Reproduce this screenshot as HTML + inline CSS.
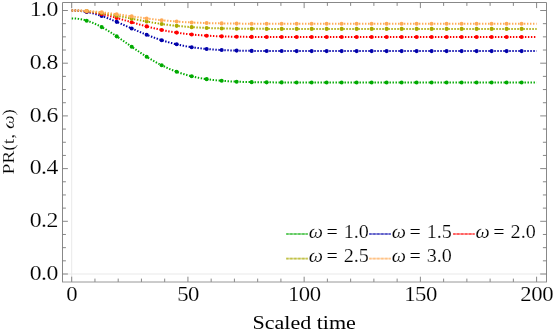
<!DOCTYPE html>
<html><head><meta charset="utf-8"><title>chart</title>
<style>html,body{margin:0;padding:0;background:#fff}svg{display:block;will-change:transform}</style></head>
<body>
<svg width="553" height="335" viewBox="0 0 553 335">
<rect width="553" height="335" fill="#fff"/>
<path d="M71.70 2.5 V281.9 M62.5 274.00 H546.5" stroke="#e9e9e9" stroke-width="1" fill="none"/>
<polyline points="71.70,18.38 72.86,18.39 74.02,18.43 75.19,18.51 76.35,18.60 77.51,18.73 78.67,18.88 79.84,19.06 81.00,19.27 82.16,19.51 83.32,19.77 84.48,20.06 85.65,20.37 86.81,20.71 87.97,21.07 89.13,21.46 90.30,21.88 91.46,22.31 92.62,22.77 93.78,23.26 94.95,23.76 96.11,24.29 97.27,24.83 98.43,25.40 99.59,25.98 100.76,26.59 101.92,27.21 103.08,27.85 104.24,28.50 105.41,29.17 106.57,29.86 107.73,30.56 108.89,31.27 110.05,31.99 111.22,32.73 112.38,33.48 113.54,34.23 114.70,35.00 115.87,35.77 117.03,36.55 118.19,37.34 119.35,38.14 120.51,38.94 121.68,39.74 122.84,40.55 124.00,41.36 125.16,42.17 126.33,42.98 127.49,43.80 128.65,44.61 129.81,45.42 130.97,46.24 132.14,47.04 133.30,47.85 134.46,48.65 135.62,49.45 136.79,50.25 137.95,51.03 139.11,51.82 140.27,52.59 141.44,53.36 142.60,54.12 143.76,54.88 144.92,55.62 146.08,56.36 147.25,57.09 148.41,57.81 149.57,58.52 150.73,59.22 151.90,59.90 153.06,60.58 154.22,61.25 155.38,61.90 156.54,62.55 157.71,63.18 158.87,63.80 160.03,64.41 161.19,65.00 162.36,65.58 163.52,66.16 164.68,66.71 165.84,67.26 167.00,67.79 168.17,68.32 169.33,68.82 170.49,69.32 171.65,69.80 172.82,70.28 173.98,70.73 175.14,71.18 176.30,71.62 177.46,72.04 178.63,72.45 179.79,72.85 180.95,73.23 182.11,73.61 183.28,73.97 184.44,74.32 185.60,74.66 186.76,74.99 187.93,75.31 189.09,75.62 190.25,75.92 191.41,76.21 192.57,76.48 193.74,76.75 194.90,77.01 196.06,77.26 197.22,77.50 198.39,77.73 199.55,77.95 200.71,78.16 201.87,78.37 203.03,78.57 204.20,78.76 205.36,78.94 206.52,79.11 207.68,79.28 208.85,79.44 210.01,79.59 211.17,79.74 212.33,79.88 213.49,80.01 214.66,80.14 215.82,80.26 216.98,80.38 218.14,80.49 219.31,80.60 220.47,80.70 221.63,80.80 222.79,80.89 223.95,80.97 225.12,81.06 226.28,81.14 227.44,81.21 228.60,81.28 229.77,81.35 230.93,81.42 232.09,81.48 233.25,81.54 234.42,81.59 235.58,81.64 236.74,81.69 237.90,81.74 239.06,81.78 240.23,81.82 241.39,81.86 242.55,81.90 243.71,81.94 244.88,81.97 246.04,82.00 247.20,82.03 248.36,82.06 249.52,82.08 250.69,82.11 251.85,82.13 253.01,82.15 254.17,82.17 255.34,82.19 256.50,82.21 257.66,82.23 258.82,82.24 259.98,82.26 261.15,82.27 262.31,82.29 263.47,82.30 264.63,82.31 265.80,82.32 266.96,82.33 268.12,82.34 269.28,82.35 270.44,82.36 271.61,82.36 272.77,82.37 273.93,82.38 275.09,82.38 276.26,82.39 277.42,82.40 278.58,82.40 279.74,82.40 280.91,82.41 282.07,82.41 283.23,82.42 284.39,82.42 285.55,82.42 286.72,82.43 287.88,82.43 289.04,82.43 290.20,82.43 291.37,82.44 292.53,82.44 293.69,82.44 294.85,82.44 296.01,82.44 297.18,82.45 298.34,82.45 299.50,82.45 300.66,82.45 301.83,82.45 302.99,82.45 304.15,82.45 305.31,82.45 306.47,82.45 307.64,82.45 308.80,82.45 309.96,82.46 311.12,82.46 312.29,82.46 313.45,82.46 314.61,82.46 315.77,82.46 316.93,82.46 318.10,82.46 319.26,82.46 320.42,82.46 321.58,82.46 322.75,82.46 323.91,82.46 325.07,82.46 326.23,82.46 327.39,82.46 328.56,82.46 329.72,82.46 330.88,82.46 332.04,82.46 333.21,82.46 334.37,82.46 335.53,82.46 336.69,82.46 337.86,82.46 339.02,82.46 340.18,82.46 341.34,82.46 342.50,82.46 343.67,82.46 344.83,82.46 345.99,82.46 347.15,82.46 348.32,82.46 349.48,82.46 350.64,82.46 351.80,82.46 352.96,82.46 354.13,82.46 355.29,82.46 356.45,82.46 357.61,82.46 358.78,82.46 359.94,82.46 361.10,82.46 362.26,82.46 363.42,82.46 364.59,82.46 365.75,82.46 366.91,82.46 368.07,82.46 369.24,82.46 370.40,82.46 371.56,82.46 372.72,82.46 373.88,82.46 375.05,82.46 376.21,82.46 377.37,82.46 378.53,82.46 379.70,82.46 380.86,82.46 382.02,82.46 383.18,82.46 384.35,82.46 385.51,82.46 386.67,82.46 387.83,82.46 388.99,82.46 390.16,82.46 391.32,82.46 392.48,82.46 393.64,82.46 394.81,82.46 395.97,82.46 397.13,82.46 398.29,82.46 399.45,82.46 400.62,82.46 401.78,82.46 402.94,82.46 404.10,82.46 405.27,82.46 406.43,82.46 407.59,82.46 408.75,82.46 409.91,82.46 411.08,82.46 412.24,82.46 413.40,82.46 414.56,82.46 415.73,82.46 416.89,82.46 418.05,82.46 419.21,82.46 420.38,82.46 421.54,82.46 422.70,82.46 423.86,82.46 425.02,82.46 426.19,82.46 427.35,82.46 428.51,82.46 429.67,82.46 430.84,82.46 432.00,82.46 433.16,82.46 434.32,82.46 435.48,82.46 436.65,82.46 437.81,82.46 438.97,82.46 440.13,82.46 441.30,82.46 442.46,82.46 443.62,82.46 444.78,82.46 445.94,82.46 447.11,82.46 448.27,82.46 449.43,82.46 450.59,82.46 451.76,82.46 452.92,82.46 454.08,82.46 455.24,82.46 456.40,82.46 457.57,82.46 458.73,82.46 459.89,82.46 461.05,82.46 462.22,82.46 463.38,82.46 464.54,82.46 465.70,82.46 466.87,82.46 468.03,82.46 469.19,82.46 470.35,82.46 471.51,82.46 472.68,82.46 473.84,82.46 475.00,82.46 476.16,82.46 477.33,82.46 478.49,82.46 479.65,82.46 480.81,82.46 481.97,82.46 483.14,82.46 484.30,82.46 485.46,82.46 486.62,82.46 487.79,82.46 488.95,82.46 490.11,82.46 491.27,82.46 492.43,82.46 493.60,82.46 494.76,82.46 495.92,82.46 497.08,82.46 498.25,82.46 499.41,82.46 500.57,82.46 501.73,82.46 502.89,82.46 504.06,82.46 505.22,82.46 506.38,82.46 507.54,82.46 508.71,82.46 509.87,82.46 511.03,82.46 512.19,82.46 513.36,82.46 514.52,82.46 515.68,82.46 516.84,82.46 518.00,82.46 519.17,82.46 520.33,82.46 521.49,82.46 522.65,82.46 523.82,82.46 524.98,82.46 526.14,82.46 527.30,82.46 528.46,82.46 529.63,82.46 530.79,82.46 531.95,82.46 533.11,82.46 534.28,82.46 535.44,82.46 536.60,82.46" fill="none" stroke="#00aa00" stroke-width="2" stroke-dasharray="1.4 1.6"/>
<circle cx="86.70" cy="20.68" r="2.05" fill="#00aa00"/>
<circle cx="101.69" cy="27.09" r="2.05" fill="#00aa00"/>
<circle cx="116.69" cy="36.33" r="2.05" fill="#00aa00"/>
<circle cx="131.69" cy="46.73" r="2.05" fill="#00aa00"/>
<circle cx="146.68" cy="56.74" r="2.05" fill="#00aa00"/>
<circle cx="161.68" cy="65.25" r="2.05" fill="#00aa00"/>
<circle cx="176.68" cy="71.75" r="2.05" fill="#00aa00"/>
<circle cx="191.67" cy="76.27" r="2.05" fill="#00aa00"/>
<circle cx="206.67" cy="79.13" r="2.05" fill="#00aa00"/>
<circle cx="221.67" cy="80.80" r="2.05" fill="#00aa00"/>
<circle cx="236.66" cy="81.69" r="2.05" fill="#00aa00"/>
<circle cx="251.66" cy="82.13" r="2.05" fill="#00aa00"/>
<circle cx="266.66" cy="82.33" r="2.05" fill="#00aa00"/>
<circle cx="281.65" cy="82.41" r="2.05" fill="#00aa00"/>
<circle cx="296.65" cy="82.44" r="2.05" fill="#00aa00"/>
<circle cx="311.65" cy="82.46" r="2.05" fill="#00aa00"/>
<circle cx="326.65" cy="82.46" r="2.05" fill="#00aa00"/>
<circle cx="341.64" cy="82.46" r="2.05" fill="#00aa00"/>
<circle cx="356.64" cy="82.46" r="2.05" fill="#00aa00"/>
<circle cx="371.64" cy="82.46" r="2.05" fill="#00aa00"/>
<circle cx="386.63" cy="82.46" r="2.05" fill="#00aa00"/>
<circle cx="401.63" cy="82.46" r="2.05" fill="#00aa00"/>
<circle cx="416.63" cy="82.46" r="2.05" fill="#00aa00"/>
<circle cx="431.62" cy="82.46" r="2.05" fill="#00aa00"/>
<circle cx="446.62" cy="82.46" r="2.05" fill="#00aa00"/>
<circle cx="461.62" cy="82.46" r="2.05" fill="#00aa00"/>
<circle cx="476.61" cy="82.46" r="2.05" fill="#00aa00"/>
<circle cx="491.61" cy="82.46" r="2.05" fill="#00aa00"/>
<circle cx="506.61" cy="82.46" r="2.05" fill="#00aa00"/>
<circle cx="521.60" cy="82.46" r="2.05" fill="#00aa00"/>
<polyline points="71.70,10.50 72.86,10.51 74.02,10.54 75.19,10.58 76.35,10.64 77.51,10.72 78.67,10.82 79.84,10.93 81.00,11.07 82.16,11.21 83.32,11.38 84.48,11.56 85.65,11.76 86.81,11.98 87.97,12.21 89.13,12.45 90.30,12.72 91.46,12.99 92.62,13.29 93.78,13.59 94.95,13.91 96.11,14.24 97.27,14.59 98.43,14.95 99.59,15.32 100.76,15.70 101.92,16.09 103.08,16.50 104.24,16.91 105.41,17.34 106.57,17.77 107.73,18.22 108.89,18.67 110.05,19.13 111.22,19.59 112.38,20.07 113.54,20.55 114.70,21.03 115.87,21.52 117.03,22.02 118.19,22.52 119.35,23.02 120.51,23.53 121.68,24.04 122.84,24.55 124.00,25.06 125.16,25.58 126.33,26.09 127.49,26.61 128.65,27.12 129.81,27.64 130.97,28.15 132.14,28.66 133.30,29.17 134.46,29.68 135.62,30.19 136.79,30.69 137.95,31.19 139.11,31.69 140.27,32.18 141.44,32.67 142.60,33.15 143.76,33.63 144.92,34.10 146.08,34.57 147.25,35.03 148.41,35.48 149.57,35.93 150.73,36.38 151.90,36.81 153.06,37.24 154.22,37.66 155.38,38.08 156.54,38.49 157.71,38.89 158.87,39.28 160.03,39.66 161.19,40.04 162.36,40.41 163.52,40.77 164.68,41.13 165.84,41.47 167.00,41.81 168.17,42.14 169.33,42.46 170.49,42.78 171.65,43.09 172.82,43.38 173.98,43.67 175.14,43.96 176.30,44.23 177.46,44.50 178.63,44.76 179.79,45.01 180.95,45.26 182.11,45.49 183.28,45.72 184.44,45.95 185.60,46.16 186.76,46.37 187.93,46.57 189.09,46.77 190.25,46.96 191.41,47.14 192.57,47.32 193.74,47.49 194.90,47.65 196.06,47.81 197.22,47.96 198.39,48.11 199.55,48.25 200.71,48.38 201.87,48.51 203.03,48.64 204.20,48.76 205.36,48.87 206.52,48.98 207.68,49.09 208.85,49.19 210.01,49.29 211.17,49.38 212.33,49.47 213.49,49.55 214.66,49.63 215.82,49.71 216.98,49.79 218.14,49.86 219.31,49.92 220.47,49.99 221.63,50.05 222.79,50.11 223.95,50.16 225.12,50.22 226.28,50.27 227.44,50.31 228.60,50.36 229.77,50.40 230.93,50.44 232.09,50.48 233.25,50.52 234.42,50.55 235.58,50.59 236.74,50.62 237.90,50.65 239.06,50.68 240.23,50.70 241.39,50.73 242.55,50.75 243.71,50.77 244.88,50.79 246.04,50.81 247.20,50.83 248.36,50.85 249.52,50.87 250.69,50.88 251.85,50.90 253.01,50.91 254.17,50.92 255.34,50.94 256.50,50.95 257.66,50.96 258.82,50.97 259.98,50.98 261.15,50.99 262.31,50.99 263.47,51.00 264.63,51.01 265.80,51.02 266.96,51.02 268.12,51.03 269.28,51.03 270.44,51.04 271.61,51.04 272.77,51.05 273.93,51.05 275.09,51.06 276.26,51.06 277.42,51.06 278.58,51.07 279.74,51.07 280.91,51.07 282.07,51.07 283.23,51.08 284.39,51.08 285.55,51.08 286.72,51.08 287.88,51.08 289.04,51.09 290.20,51.09 291.37,51.09 292.53,51.09 293.69,51.09 294.85,51.09 296.01,51.09 297.18,51.09 298.34,51.10 299.50,51.10 300.66,51.10 301.83,51.10 302.99,51.10 304.15,51.10 305.31,51.10 306.47,51.10 307.64,51.10 308.80,51.10 309.96,51.10 311.12,51.10 312.29,51.10 313.45,51.10 314.61,51.10 315.77,51.10 316.93,51.10 318.10,51.10 319.26,51.10 320.42,51.10 321.58,51.10 322.75,51.10 323.91,51.10 325.07,51.10 326.23,51.10 327.39,51.10 328.56,51.10 329.72,51.10 330.88,51.10 332.04,51.10 333.21,51.10 334.37,51.10 335.53,51.10 336.69,51.10 337.86,51.10 339.02,51.10 340.18,51.11 341.34,51.11 342.50,51.11 343.67,51.11 344.83,51.11 345.99,51.11 347.15,51.11 348.32,51.11 349.48,51.11 350.64,51.11 351.80,51.11 352.96,51.11 354.13,51.11 355.29,51.11 356.45,51.11 357.61,51.11 358.78,51.11 359.94,51.11 361.10,51.11 362.26,51.11 363.42,51.11 364.59,51.11 365.75,51.11 366.91,51.11 368.07,51.11 369.24,51.11 370.40,51.11 371.56,51.11 372.72,51.11 373.88,51.11 375.05,51.11 376.21,51.11 377.37,51.11 378.53,51.11 379.70,51.11 380.86,51.11 382.02,51.11 383.18,51.11 384.35,51.11 385.51,51.11 386.67,51.11 387.83,51.11 388.99,51.11 390.16,51.11 391.32,51.11 392.48,51.11 393.64,51.11 394.81,51.11 395.97,51.11 397.13,51.11 398.29,51.11 399.45,51.11 400.62,51.11 401.78,51.11 402.94,51.11 404.10,51.11 405.27,51.11 406.43,51.11 407.59,51.11 408.75,51.11 409.91,51.11 411.08,51.11 412.24,51.11 413.40,51.11 414.56,51.11 415.73,51.11 416.89,51.11 418.05,51.11 419.21,51.11 420.38,51.11 421.54,51.11 422.70,51.11 423.86,51.11 425.02,51.11 426.19,51.11 427.35,51.11 428.51,51.11 429.67,51.11 430.84,51.11 432.00,51.11 433.16,51.11 434.32,51.11 435.48,51.11 436.65,51.11 437.81,51.11 438.97,51.11 440.13,51.11 441.30,51.11 442.46,51.11 443.62,51.11 444.78,51.11 445.94,51.11 447.11,51.11 448.27,51.11 449.43,51.11 450.59,51.11 451.76,51.11 452.92,51.11 454.08,51.11 455.24,51.11 456.40,51.11 457.57,51.11 458.73,51.11 459.89,51.11 461.05,51.11 462.22,51.11 463.38,51.11 464.54,51.11 465.70,51.11 466.87,51.11 468.03,51.11 469.19,51.11 470.35,51.11 471.51,51.11 472.68,51.11 473.84,51.11 475.00,51.11 476.16,51.11 477.33,51.11 478.49,51.11 479.65,51.11 480.81,51.11 481.97,51.11 483.14,51.11 484.30,51.11 485.46,51.11 486.62,51.11 487.79,51.11 488.95,51.11 490.11,51.11 491.27,51.11 492.43,51.11 493.60,51.11 494.76,51.11 495.92,51.11 497.08,51.11 498.25,51.11 499.41,51.11 500.57,51.11 501.73,51.11 502.89,51.11 504.06,51.11 505.22,51.11 506.38,51.11 507.54,51.11 508.71,51.11 509.87,51.11 511.03,51.11 512.19,51.11 513.36,51.11 514.52,51.11 515.68,51.11 516.84,51.11 518.00,51.11 519.17,51.11 520.33,51.11 521.49,51.11 522.65,51.11 523.82,51.11 524.98,51.11 526.14,51.11 527.30,51.11 528.46,51.11 529.63,51.11 530.79,51.11 531.95,51.11 533.11,51.11 534.28,51.11 535.44,51.11 536.60,51.11" fill="none" stroke="#0000aa" stroke-width="2" stroke-dasharray="1.4 1.6"/>
<circle cx="86.70" cy="11.96" r="2.05" fill="#0000aa"/>
<circle cx="101.69" cy="16.02" r="2.05" fill="#0000aa"/>
<circle cx="116.69" cy="21.87" r="2.05" fill="#0000aa"/>
<circle cx="131.69" cy="28.47" r="2.05" fill="#0000aa"/>
<circle cx="146.68" cy="34.81" r="2.05" fill="#0000aa"/>
<circle cx="161.68" cy="40.20" r="2.05" fill="#0000aa"/>
<circle cx="176.68" cy="44.32" r="2.05" fill="#0000aa"/>
<circle cx="191.67" cy="47.18" r="2.05" fill="#0000aa"/>
<circle cx="206.67" cy="49.00" r="2.05" fill="#0000aa"/>
<circle cx="221.67" cy="50.05" r="2.05" fill="#0000aa"/>
<circle cx="236.66" cy="50.62" r="2.05" fill="#0000aa"/>
<circle cx="251.66" cy="50.89" r="2.05" fill="#0000aa"/>
<circle cx="266.66" cy="51.02" r="2.05" fill="#0000aa"/>
<circle cx="281.65" cy="51.07" r="2.05" fill="#0000aa"/>
<circle cx="296.65" cy="51.09" r="2.05" fill="#0000aa"/>
<circle cx="311.65" cy="51.10" r="2.05" fill="#0000aa"/>
<circle cx="326.65" cy="51.10" r="2.05" fill="#0000aa"/>
<circle cx="341.64" cy="51.11" r="2.05" fill="#0000aa"/>
<circle cx="356.64" cy="51.11" r="2.05" fill="#0000aa"/>
<circle cx="371.64" cy="51.11" r="2.05" fill="#0000aa"/>
<circle cx="386.63" cy="51.11" r="2.05" fill="#0000aa"/>
<circle cx="401.63" cy="51.11" r="2.05" fill="#0000aa"/>
<circle cx="416.63" cy="51.11" r="2.05" fill="#0000aa"/>
<circle cx="431.62" cy="51.11" r="2.05" fill="#0000aa"/>
<circle cx="446.62" cy="51.11" r="2.05" fill="#0000aa"/>
<circle cx="461.62" cy="51.11" r="2.05" fill="#0000aa"/>
<circle cx="476.61" cy="51.11" r="2.05" fill="#0000aa"/>
<circle cx="491.61" cy="51.11" r="2.05" fill="#0000aa"/>
<circle cx="506.61" cy="51.11" r="2.05" fill="#0000aa"/>
<circle cx="521.60" cy="51.11" r="2.05" fill="#0000aa"/>
<polyline points="71.70,10.50 72.86,10.51 74.02,10.52 75.19,10.55 76.35,10.59 77.51,10.65 78.67,10.71 79.84,10.78 81.00,10.87 82.16,10.97 83.32,11.08 84.48,11.20 85.65,11.33 86.81,11.47 87.97,11.62 89.13,11.78 90.30,11.95 91.46,12.13 92.62,12.32 93.78,12.52 94.95,12.73 96.11,12.95 97.27,13.17 98.43,13.41 99.59,13.65 100.76,13.90 101.92,14.16 103.08,14.42 104.24,14.70 105.41,14.97 106.57,15.26 107.73,15.55 108.89,15.84 110.05,16.14 111.22,16.45 112.38,16.76 113.54,17.07 114.70,17.39 115.87,17.71 117.03,18.03 118.19,18.36 119.35,18.69 120.51,19.02 121.68,19.35 122.84,19.69 124.00,20.02 125.16,20.36 126.33,20.70 127.49,21.04 128.65,21.37 129.81,21.71 130.97,22.05 132.14,22.38 133.30,22.72 134.46,23.05 135.62,23.38 136.79,23.71 137.95,24.03 139.11,24.36 140.27,24.68 141.44,25.00 142.60,25.32 143.76,25.63 144.92,25.94 146.08,26.24 147.25,26.54 148.41,26.84 149.57,27.14 150.73,27.43 151.90,27.71 153.06,27.99 154.22,28.27 155.38,28.54 156.54,28.81 157.71,29.07 158.87,29.32 160.03,29.58 161.19,29.82 162.36,30.07 163.52,30.30 164.68,30.53 165.84,30.76 167.00,30.98 168.17,31.20 169.33,31.41 170.49,31.61 171.65,31.81 172.82,32.01 173.98,32.20 175.14,32.39 176.30,32.57 177.46,32.74 178.63,32.91 179.79,33.08 180.95,33.24 182.11,33.39 183.28,33.54 184.44,33.69 185.60,33.83 186.76,33.96 187.93,34.10 189.09,34.22 190.25,34.35 191.41,34.47 192.57,34.58 193.74,34.69 194.90,34.80 196.06,34.90 197.22,35.00 198.39,35.10 199.55,35.19 200.71,35.28 201.87,35.36 203.03,35.45 204.20,35.52 205.36,35.60 206.52,35.67 207.68,35.74 208.85,35.81 210.01,35.87 211.17,35.93 212.33,35.99 213.49,36.05 214.66,36.10 215.82,36.15 216.98,36.20 218.14,36.24 219.31,36.29 220.47,36.33 221.63,36.37 222.79,36.41 223.95,36.44 225.12,36.48 226.28,36.51 227.44,36.54 228.60,36.57 229.77,36.60 230.93,36.63 232.09,36.65 233.25,36.68 234.42,36.70 235.58,36.72 236.74,36.74 237.90,36.76 239.06,36.78 240.23,36.80 241.39,36.81 242.55,36.83 243.71,36.84 244.88,36.86 246.04,36.87 247.20,36.88 248.36,36.89 249.52,36.90 250.69,36.91 251.85,36.92 253.01,36.93 254.17,36.94 255.34,36.95 256.50,36.96 257.66,36.96 258.82,36.97 259.98,36.98 261.15,36.98 262.31,36.99 263.47,36.99 264.63,37.00 265.80,37.00 266.96,37.01 268.12,37.01 269.28,37.01 270.44,37.02 271.61,37.02 272.77,37.02 273.93,37.03 275.09,37.03 276.26,37.03 277.42,37.03 278.58,37.04 279.74,37.04 280.91,37.04 282.07,37.04 283.23,37.04 284.39,37.04 285.55,37.04 286.72,37.05 287.88,37.05 289.04,37.05 290.20,37.05 291.37,37.05 292.53,37.05 293.69,37.05 294.85,37.05 296.01,37.05 297.18,37.05 298.34,37.05 299.50,37.05 300.66,37.06 301.83,37.06 302.99,37.06 304.15,37.06 305.31,37.06 306.47,37.06 307.64,37.06 308.80,37.06 309.96,37.06 311.12,37.06 312.29,37.06 313.45,37.06 314.61,37.06 315.77,37.06 316.93,37.06 318.10,37.06 319.26,37.06 320.42,37.06 321.58,37.06 322.75,37.06 323.91,37.06 325.07,37.06 326.23,37.06 327.39,37.06 328.56,37.06 329.72,37.06 330.88,37.06 332.04,37.06 333.21,37.06 334.37,37.06 335.53,37.06 336.69,37.06 337.86,37.06 339.02,37.06 340.18,37.06 341.34,37.06 342.50,37.06 343.67,37.06 344.83,37.06 345.99,37.06 347.15,37.06 348.32,37.06 349.48,37.06 350.64,37.06 351.80,37.06 352.96,37.06 354.13,37.06 355.29,37.06 356.45,37.06 357.61,37.06 358.78,37.06 359.94,37.06 361.10,37.06 362.26,37.06 363.42,37.06 364.59,37.06 365.75,37.06 366.91,37.06 368.07,37.06 369.24,37.06 370.40,37.06 371.56,37.06 372.72,37.06 373.88,37.06 375.05,37.06 376.21,37.06 377.37,37.06 378.53,37.06 379.70,37.06 380.86,37.06 382.02,37.06 383.18,37.06 384.35,37.06 385.51,37.06 386.67,37.06 387.83,37.06 388.99,37.06 390.16,37.06 391.32,37.06 392.48,37.06 393.64,37.06 394.81,37.06 395.97,37.06 397.13,37.06 398.29,37.06 399.45,37.06 400.62,37.06 401.78,37.06 402.94,37.06 404.10,37.06 405.27,37.06 406.43,37.06 407.59,37.06 408.75,37.06 409.91,37.06 411.08,37.06 412.24,37.06 413.40,37.06 414.56,37.06 415.73,37.06 416.89,37.06 418.05,37.06 419.21,37.06 420.38,37.06 421.54,37.06 422.70,37.06 423.86,37.06 425.02,37.06 426.19,37.06 427.35,37.06 428.51,37.06 429.67,37.06 430.84,37.06 432.00,37.06 433.16,37.06 434.32,37.06 435.48,37.06 436.65,37.06 437.81,37.06 438.97,37.06 440.13,37.06 441.30,37.06 442.46,37.06 443.62,37.06 444.78,37.06 445.94,37.06 447.11,37.06 448.27,37.06 449.43,37.06 450.59,37.06 451.76,37.06 452.92,37.06 454.08,37.06 455.24,37.06 456.40,37.06 457.57,37.06 458.73,37.06 459.89,37.06 461.05,37.06 462.22,37.06 463.38,37.06 464.54,37.06 465.70,37.06 466.87,37.06 468.03,37.06 469.19,37.06 470.35,37.06 471.51,37.06 472.68,37.06 473.84,37.06 475.00,37.06 476.16,37.06 477.33,37.06 478.49,37.06 479.65,37.06 480.81,37.06 481.97,37.06 483.14,37.06 484.30,37.06 485.46,37.06 486.62,37.06 487.79,37.06 488.95,37.06 490.11,37.06 491.27,37.06 492.43,37.06 493.60,37.06 494.76,37.06 495.92,37.06 497.08,37.06 498.25,37.06 499.41,37.06 500.57,37.06 501.73,37.06 502.89,37.06 504.06,37.06 505.22,37.06 506.38,37.06 507.54,37.06 508.71,37.06 509.87,37.06 511.03,37.06 512.19,37.06 513.36,37.06 514.52,37.06 515.68,37.06 516.84,37.06 518.00,37.06 519.17,37.06 520.33,37.06 521.49,37.06 522.65,37.06 523.82,37.06 524.98,37.06 526.14,37.06 527.30,37.06 528.46,37.06 529.63,37.06 530.79,37.06 531.95,37.06 533.11,37.06 534.28,37.06 535.44,37.06 536.60,37.06" fill="none" stroke="#ff0000" stroke-width="2" stroke-dasharray="1.4 1.6"/>
<circle cx="86.70" cy="11.45" r="2.05" fill="#ff0000"/>
<circle cx="101.69" cy="14.11" r="2.05" fill="#ff0000"/>
<circle cx="116.69" cy="17.94" r="2.05" fill="#ff0000"/>
<circle cx="131.69" cy="22.25" r="2.05" fill="#ff0000"/>
<circle cx="146.68" cy="26.40" r="2.05" fill="#ff0000"/>
<circle cx="161.68" cy="29.93" r="2.05" fill="#ff0000"/>
<circle cx="176.68" cy="32.62" r="2.05" fill="#ff0000"/>
<circle cx="191.67" cy="34.49" r="2.05" fill="#ff0000"/>
<circle cx="206.67" cy="35.68" r="2.05" fill="#ff0000"/>
<circle cx="221.67" cy="36.37" r="2.05" fill="#ff0000"/>
<circle cx="236.66" cy="36.74" r="2.05" fill="#ff0000"/>
<circle cx="251.66" cy="36.92" r="2.05" fill="#ff0000"/>
<circle cx="266.66" cy="37.01" r="2.05" fill="#ff0000"/>
<circle cx="281.65" cy="37.04" r="2.05" fill="#ff0000"/>
<circle cx="296.65" cy="37.05" r="2.05" fill="#ff0000"/>
<circle cx="311.65" cy="37.06" r="2.05" fill="#ff0000"/>
<circle cx="326.65" cy="37.06" r="2.05" fill="#ff0000"/>
<circle cx="341.64" cy="37.06" r="2.05" fill="#ff0000"/>
<circle cx="356.64" cy="37.06" r="2.05" fill="#ff0000"/>
<circle cx="371.64" cy="37.06" r="2.05" fill="#ff0000"/>
<circle cx="386.63" cy="37.06" r="2.05" fill="#ff0000"/>
<circle cx="401.63" cy="37.06" r="2.05" fill="#ff0000"/>
<circle cx="416.63" cy="37.06" r="2.05" fill="#ff0000"/>
<circle cx="431.62" cy="37.06" r="2.05" fill="#ff0000"/>
<circle cx="446.62" cy="37.06" r="2.05" fill="#ff0000"/>
<circle cx="461.62" cy="37.06" r="2.05" fill="#ff0000"/>
<circle cx="476.61" cy="37.06" r="2.05" fill="#ff0000"/>
<circle cx="491.61" cy="37.06" r="2.05" fill="#ff0000"/>
<circle cx="506.61" cy="37.06" r="2.05" fill="#ff0000"/>
<circle cx="521.60" cy="37.06" r="2.05" fill="#ff0000"/>
<polyline points="71.70,10.50 72.86,10.50 74.02,10.52 75.19,10.54 76.35,10.56 77.51,10.60 78.67,10.64 79.84,10.70 81.00,10.76 82.16,10.82 83.32,10.90 84.48,10.98 85.65,11.07 86.81,11.17 87.97,11.27 89.13,11.39 90.30,11.51 91.46,11.63 92.62,11.76 93.78,11.90 94.95,12.05 96.11,12.20 97.27,12.35 98.43,12.52 99.59,12.69 100.76,12.86 101.92,13.04 103.08,13.22 104.24,13.41 105.41,13.60 106.57,13.80 107.73,14.00 108.89,14.20 110.05,14.41 111.22,14.62 112.38,14.84 113.54,15.06 114.70,15.28 115.87,15.50 117.03,15.72 118.19,15.95 119.35,16.18 120.51,16.41 121.68,16.64 122.84,16.87 124.00,17.10 125.16,17.34 126.33,17.57 127.49,17.81 128.65,18.04 129.81,18.27 130.97,18.51 132.14,18.74 133.30,18.97 134.46,19.20 135.62,19.43 136.79,19.66 137.95,19.89 139.11,20.11 140.27,20.33 141.44,20.56 142.60,20.77 143.76,20.99 144.92,21.21 146.08,21.42 147.25,21.63 148.41,21.83 149.57,22.04 150.73,22.24 151.90,22.43 153.06,22.63 154.22,22.82 155.38,23.01 156.54,23.19 157.71,23.38 158.87,23.55 160.03,23.73 161.19,23.90 162.36,24.07 163.52,24.23 164.68,24.39 165.84,24.55 167.00,24.70 168.17,24.85 169.33,25.00 170.49,25.14 171.65,25.28 172.82,25.42 173.98,25.55 175.14,25.68 176.30,25.80 177.46,25.92 178.63,26.04 179.79,26.15 180.95,26.27 182.11,26.37 183.28,26.48 184.44,26.58 185.60,26.68 186.76,26.77 187.93,26.86 189.09,26.95 190.25,27.04 191.41,27.12 192.57,27.20 193.74,27.28 194.90,27.35 196.06,27.42 197.22,27.49 198.39,27.56 199.55,27.62 200.71,27.68 201.87,27.74 203.03,27.80 204.20,27.85 205.36,27.91 206.52,27.96 207.68,28.00 208.85,28.05 210.01,28.09 211.17,28.14 212.33,28.18 213.49,28.21 214.66,28.25 215.82,28.29 216.98,28.32 218.14,28.35 219.31,28.38 220.47,28.41 221.63,28.44 222.79,28.47 223.95,28.49 225.12,28.52 226.28,28.54 227.44,28.56 228.60,28.58 229.77,28.60 230.93,28.62 232.09,28.64 233.25,28.65 234.42,28.67 235.58,28.68 236.74,28.70 237.90,28.71 239.06,28.72 240.23,28.74 241.39,28.75 242.55,28.76 243.71,28.77 244.88,28.78 246.04,28.79 247.20,28.79 248.36,28.80 249.52,28.81 250.69,28.82 251.85,28.82 253.01,28.83 254.17,28.84 255.34,28.84 256.50,28.85 257.66,28.85 258.82,28.86 259.98,28.86 261.15,28.86 262.31,28.87 263.47,28.87 264.63,28.87 265.80,28.88 266.96,28.88 268.12,28.88 269.28,28.89 270.44,28.89 271.61,28.89 272.77,28.89 273.93,28.89 275.09,28.90 276.26,28.90 277.42,28.90 278.58,28.90 279.74,28.90 280.91,28.90 282.07,28.90 283.23,28.91 284.39,28.91 285.55,28.91 286.72,28.91 287.88,28.91 289.04,28.91 290.20,28.91 291.37,28.91 292.53,28.91 293.69,28.91 294.85,28.91 296.01,28.91 297.18,28.91 298.34,28.91 299.50,28.91 300.66,28.91 301.83,28.92 302.99,28.92 304.15,28.92 305.31,28.92 306.47,28.92 307.64,28.92 308.80,28.92 309.96,28.92 311.12,28.92 312.29,28.92 313.45,28.92 314.61,28.92 315.77,28.92 316.93,28.92 318.10,28.92 319.26,28.92 320.42,28.92 321.58,28.92 322.75,28.92 323.91,28.92 325.07,28.92 326.23,28.92 327.39,28.92 328.56,28.92 329.72,28.92 330.88,28.92 332.04,28.92 333.21,28.92 334.37,28.92 335.53,28.92 336.69,28.92 337.86,28.92 339.02,28.92 340.18,28.92 341.34,28.92 342.50,28.92 343.67,28.92 344.83,28.92 345.99,28.92 347.15,28.92 348.32,28.92 349.48,28.92 350.64,28.92 351.80,28.92 352.96,28.92 354.13,28.92 355.29,28.92 356.45,28.92 357.61,28.92 358.78,28.92 359.94,28.92 361.10,28.92 362.26,28.92 363.42,28.92 364.59,28.92 365.75,28.92 366.91,28.92 368.07,28.92 369.24,28.92 370.40,28.92 371.56,28.92 372.72,28.92 373.88,28.92 375.05,28.92 376.21,28.92 377.37,28.92 378.53,28.92 379.70,28.92 380.86,28.92 382.02,28.92 383.18,28.92 384.35,28.92 385.51,28.92 386.67,28.92 387.83,28.92 388.99,28.92 390.16,28.92 391.32,28.92 392.48,28.92 393.64,28.92 394.81,28.92 395.97,28.92 397.13,28.92 398.29,28.92 399.45,28.92 400.62,28.92 401.78,28.92 402.94,28.92 404.10,28.92 405.27,28.92 406.43,28.92 407.59,28.92 408.75,28.92 409.91,28.92 411.08,28.92 412.24,28.92 413.40,28.92 414.56,28.92 415.73,28.92 416.89,28.92 418.05,28.92 419.21,28.92 420.38,28.92 421.54,28.92 422.70,28.92 423.86,28.92 425.02,28.92 426.19,28.92 427.35,28.92 428.51,28.92 429.67,28.92 430.84,28.92 432.00,28.92 433.16,28.92 434.32,28.92 435.48,28.92 436.65,28.92 437.81,28.92 438.97,28.92 440.13,28.92 441.30,28.92 442.46,28.92 443.62,28.92 444.78,28.92 445.94,28.92 447.11,28.92 448.27,28.92 449.43,28.92 450.59,28.92 451.76,28.92 452.92,28.92 454.08,28.92 455.24,28.92 456.40,28.92 457.57,28.92 458.73,28.92 459.89,28.92 461.05,28.92 462.22,28.92 463.38,28.92 464.54,28.92 465.70,28.92 466.87,28.92 468.03,28.92 469.19,28.92 470.35,28.92 471.51,28.92 472.68,28.92 473.84,28.92 475.00,28.92 476.16,28.92 477.33,28.92 478.49,28.92 479.65,28.92 480.81,28.92 481.97,28.92 483.14,28.92 484.30,28.92 485.46,28.92 486.62,28.92 487.79,28.92 488.95,28.92 490.11,28.92 491.27,28.92 492.43,28.92 493.60,28.92 494.76,28.92 495.92,28.92 497.08,28.92 498.25,28.92 499.41,28.92 500.57,28.92 501.73,28.92 502.89,28.92 504.06,28.92 505.22,28.92 506.38,28.92 507.54,28.92 508.71,28.92 509.87,28.92 511.03,28.92 512.19,28.92 513.36,28.92 514.52,28.92 515.68,28.92 516.84,28.92 518.00,28.92 519.17,28.92 520.33,28.92 521.49,28.92 522.65,28.92 523.82,28.92 524.98,28.92 526.14,28.92 527.30,28.92 528.46,28.92 529.63,28.92 530.79,28.92 531.95,28.92 533.11,28.92 534.28,28.92 535.44,28.92 536.60,28.92" fill="none" stroke="#aaaa00" stroke-width="2" stroke-dasharray="1.4 1.6"/>
<circle cx="86.70" cy="11.16" r="2.05" fill="#aaaa00"/>
<circle cx="101.69" cy="13.00" r="2.05" fill="#aaaa00"/>
<circle cx="116.69" cy="15.66" r="2.05" fill="#aaaa00"/>
<circle cx="131.69" cy="18.65" r="2.05" fill="#aaaa00"/>
<circle cx="146.68" cy="21.53" r="2.05" fill="#aaaa00"/>
<circle cx="161.68" cy="23.97" r="2.05" fill="#aaaa00"/>
<circle cx="176.68" cy="25.84" r="2.05" fill="#aaaa00"/>
<circle cx="191.67" cy="27.14" r="2.05" fill="#aaaa00"/>
<circle cx="206.67" cy="27.96" r="2.05" fill="#aaaa00"/>
<circle cx="221.67" cy="28.44" r="2.05" fill="#aaaa00"/>
<circle cx="236.66" cy="28.70" r="2.05" fill="#aaaa00"/>
<circle cx="251.66" cy="28.82" r="2.05" fill="#aaaa00"/>
<circle cx="266.66" cy="28.88" r="2.05" fill="#aaaa00"/>
<circle cx="281.65" cy="28.90" r="2.05" fill="#aaaa00"/>
<circle cx="296.65" cy="28.91" r="2.05" fill="#aaaa00"/>
<circle cx="311.65" cy="28.92" r="2.05" fill="#aaaa00"/>
<circle cx="326.65" cy="28.92" r="2.05" fill="#aaaa00"/>
<circle cx="341.64" cy="28.92" r="2.05" fill="#aaaa00"/>
<circle cx="356.64" cy="28.92" r="2.05" fill="#aaaa00"/>
<circle cx="371.64" cy="28.92" r="2.05" fill="#aaaa00"/>
<circle cx="386.63" cy="28.92" r="2.05" fill="#aaaa00"/>
<circle cx="401.63" cy="28.92" r="2.05" fill="#aaaa00"/>
<circle cx="416.63" cy="28.92" r="2.05" fill="#aaaa00"/>
<circle cx="431.62" cy="28.92" r="2.05" fill="#aaaa00"/>
<circle cx="446.62" cy="28.92" r="2.05" fill="#aaaa00"/>
<circle cx="461.62" cy="28.92" r="2.05" fill="#aaaa00"/>
<circle cx="476.61" cy="28.92" r="2.05" fill="#aaaa00"/>
<circle cx="491.61" cy="28.92" r="2.05" fill="#aaaa00"/>
<circle cx="506.61" cy="28.92" r="2.05" fill="#aaaa00"/>
<circle cx="521.60" cy="28.92" r="2.05" fill="#aaaa00"/>
<polyline points="71.70,10.50 72.86,10.50 74.02,10.51 75.19,10.53 76.35,10.55 77.51,10.57 78.67,10.60 79.84,10.64 81.00,10.68 82.16,10.73 83.32,10.79 84.48,10.85 85.65,10.91 86.81,10.98 87.97,11.06 89.13,11.14 90.30,11.22 91.46,11.31 92.62,11.41 93.78,11.51 94.95,11.61 96.11,11.72 97.27,11.83 98.43,11.95 99.59,12.07 100.76,12.20 101.92,12.33 103.08,12.46 104.24,12.59 105.41,12.73 106.57,12.87 107.73,13.02 108.89,13.17 110.05,13.32 111.22,13.47 112.38,13.62 113.54,13.78 114.70,13.94 115.87,14.10 117.03,14.26 118.19,14.42 119.35,14.59 120.51,14.75 121.68,14.92 122.84,15.09 124.00,15.25 125.16,15.42 126.33,15.59 127.49,15.76 128.65,15.93 129.81,16.09 130.97,16.26 132.14,16.43 133.30,16.60 134.46,16.76 135.62,16.93 136.79,17.09 137.95,17.25 139.11,17.42 140.27,17.58 141.44,17.74 142.60,17.89 143.76,18.05 144.92,18.20 146.08,18.36 147.25,18.51 148.41,18.66 149.57,18.80 150.73,18.95 151.90,19.09 153.06,19.23 154.22,19.37 155.38,19.50 156.54,19.63 157.71,19.77 158.87,19.89 160.03,20.02 161.19,20.14 162.36,20.26 163.52,20.38 164.68,20.50 165.84,20.61 167.00,20.72 168.17,20.83 169.33,20.93 170.49,21.04 171.65,21.14 172.82,21.23 173.98,21.33 175.14,21.42 176.30,21.51 177.46,21.60 178.63,21.68 179.79,21.77 180.95,21.85 182.11,21.92 183.28,22.00 184.44,22.07 185.60,22.14 186.76,22.21 187.93,22.28 189.09,22.34 190.25,22.40 191.41,22.46 192.57,22.52 193.74,22.57 194.90,22.63 196.06,22.68 197.22,22.73 198.39,22.78 199.55,22.82 200.71,22.87 201.87,22.91 203.03,22.95 204.20,22.99 205.36,23.02 206.52,23.06 207.68,23.10 208.85,23.13 210.01,23.16 211.17,23.19 212.33,23.22 213.49,23.25 214.66,23.27 215.82,23.30 216.98,23.32 218.14,23.35 219.31,23.37 220.47,23.39 221.63,23.41 222.79,23.43 223.95,23.45 225.12,23.46 226.28,23.48 227.44,23.50 228.60,23.51 229.77,23.52 230.93,23.54 232.09,23.55 233.25,23.56 234.42,23.57 235.58,23.58 236.74,23.59 237.90,23.60 239.06,23.61 240.23,23.62 241.39,23.63 242.55,23.64 243.71,23.65 244.88,23.65 246.04,23.66 247.20,23.66 248.36,23.67 249.52,23.68 250.69,23.68 251.85,23.69 253.01,23.69 254.17,23.69 255.34,23.70 256.50,23.70 257.66,23.71 258.82,23.71 259.98,23.71 261.15,23.71 262.31,23.72 263.47,23.72 264.63,23.72 265.80,23.72 266.96,23.73 268.12,23.73 269.28,23.73 270.44,23.73 271.61,23.73 272.77,23.74 273.93,23.74 275.09,23.74 276.26,23.74 277.42,23.74 278.58,23.74 279.74,23.74 280.91,23.74 282.07,23.74 283.23,23.74 284.39,23.75 285.55,23.75 286.72,23.75 287.88,23.75 289.04,23.75 290.20,23.75 291.37,23.75 292.53,23.75 293.69,23.75 294.85,23.75 296.01,23.75 297.18,23.75 298.34,23.75 299.50,23.75 300.66,23.75 301.83,23.75 302.99,23.75 304.15,23.75 305.31,23.75 306.47,23.75 307.64,23.75 308.80,23.75 309.96,23.75 311.12,23.75 312.29,23.75 313.45,23.75 314.61,23.75 315.77,23.75 316.93,23.75 318.10,23.75 319.26,23.75 320.42,23.75 321.58,23.75 322.75,23.75 323.91,23.75 325.07,23.75 326.23,23.75 327.39,23.75 328.56,23.75 329.72,23.75 330.88,23.75 332.04,23.75 333.21,23.75 334.37,23.75 335.53,23.75 336.69,23.75 337.86,23.75 339.02,23.75 340.18,23.75 341.34,23.75 342.50,23.75 343.67,23.75 344.83,23.75 345.99,23.75 347.15,23.75 348.32,23.75 349.48,23.75 350.64,23.75 351.80,23.75 352.96,23.75 354.13,23.75 355.29,23.75 356.45,23.75 357.61,23.75 358.78,23.75 359.94,23.75 361.10,23.75 362.26,23.75 363.42,23.75 364.59,23.75 365.75,23.75 366.91,23.75 368.07,23.75 369.24,23.75 370.40,23.75 371.56,23.75 372.72,23.75 373.88,23.75 375.05,23.75 376.21,23.75 377.37,23.75 378.53,23.75 379.70,23.75 380.86,23.75 382.02,23.75 383.18,23.75 384.35,23.75 385.51,23.75 386.67,23.75 387.83,23.75 388.99,23.75 390.16,23.75 391.32,23.75 392.48,23.75 393.64,23.75 394.81,23.75 395.97,23.75 397.13,23.75 398.29,23.75 399.45,23.75 400.62,23.75 401.78,23.75 402.94,23.75 404.10,23.75 405.27,23.75 406.43,23.75 407.59,23.75 408.75,23.75 409.91,23.75 411.08,23.75 412.24,23.75 413.40,23.75 414.56,23.75 415.73,23.75 416.89,23.75 418.05,23.75 419.21,23.75 420.38,23.75 421.54,23.75 422.70,23.75 423.86,23.75 425.02,23.75 426.19,23.75 427.35,23.75 428.51,23.75 429.67,23.75 430.84,23.75 432.00,23.75 433.16,23.75 434.32,23.75 435.48,23.75 436.65,23.75 437.81,23.75 438.97,23.75 440.13,23.75 441.30,23.75 442.46,23.75 443.62,23.75 444.78,23.75 445.94,23.75 447.11,23.75 448.27,23.75 449.43,23.75 450.59,23.75 451.76,23.75 452.92,23.75 454.08,23.75 455.24,23.75 456.40,23.75 457.57,23.75 458.73,23.75 459.89,23.75 461.05,23.75 462.22,23.75 463.38,23.75 464.54,23.75 465.70,23.75 466.87,23.75 468.03,23.75 469.19,23.75 470.35,23.75 471.51,23.75 472.68,23.75 473.84,23.75 475.00,23.75 476.16,23.75 477.33,23.75 478.49,23.75 479.65,23.75 480.81,23.75 481.97,23.75 483.14,23.75 484.30,23.75 485.46,23.75 486.62,23.75 487.79,23.75 488.95,23.75 490.11,23.75 491.27,23.75 492.43,23.75 493.60,23.75 494.76,23.75 495.92,23.75 497.08,23.75 498.25,23.75 499.41,23.75 500.57,23.75 501.73,23.75 502.89,23.75 504.06,23.75 505.22,23.75 506.38,23.75 507.54,23.75 508.71,23.75 509.87,23.75 511.03,23.75 512.19,23.75 513.36,23.75 514.52,23.75 515.68,23.75 516.84,23.75 518.00,23.75 519.17,23.75 520.33,23.75 521.49,23.75 522.65,23.75 523.82,23.75 524.98,23.75 526.14,23.75 527.30,23.75 528.46,23.75 529.63,23.75 530.79,23.75 531.95,23.75 533.11,23.75 534.28,23.75 535.44,23.75 536.60,23.75" fill="none" stroke="#ffaa55" stroke-width="2" stroke-dasharray="1.4 1.6"/>
<circle cx="86.70" cy="10.98" r="2.05" fill="#ffaa55"/>
<circle cx="101.69" cy="12.30" r="2.05" fill="#ffaa55"/>
<circle cx="116.69" cy="14.21" r="2.05" fill="#ffaa55"/>
<circle cx="131.69" cy="16.36" r="2.05" fill="#ffaa55"/>
<circle cx="146.68" cy="18.43" r="2.05" fill="#ffaa55"/>
<circle cx="161.68" cy="20.19" r="2.05" fill="#ffaa55"/>
<circle cx="176.68" cy="21.54" r="2.05" fill="#ffaa55"/>
<circle cx="191.67" cy="22.47" r="2.05" fill="#ffaa55"/>
<circle cx="206.67" cy="23.07" r="2.05" fill="#ffaa55"/>
<circle cx="221.67" cy="23.41" r="2.05" fill="#ffaa55"/>
<circle cx="236.66" cy="23.59" r="2.05" fill="#ffaa55"/>
<circle cx="251.66" cy="23.69" r="2.05" fill="#ffaa55"/>
<circle cx="266.66" cy="23.73" r="2.05" fill="#ffaa55"/>
<circle cx="281.65" cy="23.74" r="2.05" fill="#ffaa55"/>
<circle cx="296.65" cy="23.75" r="2.05" fill="#ffaa55"/>
<circle cx="311.65" cy="23.75" r="2.05" fill="#ffaa55"/>
<circle cx="326.65" cy="23.75" r="2.05" fill="#ffaa55"/>
<circle cx="341.64" cy="23.75" r="2.05" fill="#ffaa55"/>
<circle cx="356.64" cy="23.75" r="2.05" fill="#ffaa55"/>
<circle cx="371.64" cy="23.75" r="2.05" fill="#ffaa55"/>
<circle cx="386.63" cy="23.75" r="2.05" fill="#ffaa55"/>
<circle cx="401.63" cy="23.75" r="2.05" fill="#ffaa55"/>
<circle cx="416.63" cy="23.75" r="2.05" fill="#ffaa55"/>
<circle cx="431.62" cy="23.75" r="2.05" fill="#ffaa55"/>
<circle cx="446.62" cy="23.75" r="2.05" fill="#ffaa55"/>
<circle cx="461.62" cy="23.75" r="2.05" fill="#ffaa55"/>
<circle cx="476.61" cy="23.75" r="2.05" fill="#ffaa55"/>
<circle cx="491.61" cy="23.75" r="2.05" fill="#ffaa55"/>
<circle cx="506.61" cy="23.75" r="2.05" fill="#ffaa55"/>
<circle cx="521.60" cy="23.75" r="2.05" fill="#ffaa55"/>
<path d="M62.5 282.00V2.5H546.5V282.00" fill="none" stroke="#7a7a7a" stroke-width="0.9"/>
<path d="M62.05 282.00H546.95" fill="none" stroke="#8c8c8c" stroke-width="0.9"/>
<path d="M62.5 274.00h5.4M546.5 274.00h-6.3M62.5 260.82h3.4M546.5 260.82h-3.6M62.5 247.65h3.4M546.5 247.65h-3.6M62.5 234.47h3.4M546.5 234.47h-3.6M62.5 221.30h5.4M546.5 221.30h-6.3M62.5 208.12h3.4M546.5 208.12h-3.6M62.5 194.95h3.4M546.5 194.95h-3.6M62.5 181.77h3.4M546.5 181.77h-3.6M62.5 168.60h5.4M546.5 168.60h-6.3M62.5 155.43h3.4M546.5 155.43h-3.6M62.5 142.25h3.4M546.5 142.25h-3.6M62.5 129.07h3.4M546.5 129.07h-3.6M62.5 115.90h5.4M546.5 115.90h-6.3M62.5 102.72h3.4M546.5 102.72h-3.6M62.5 89.55h3.4M546.5 89.55h-3.6M62.5 76.38h3.4M546.5 76.38h-3.6M62.5 63.20h5.4M546.5 63.20h-6.3M62.5 50.02h3.4M546.5 50.02h-3.6M62.5 36.85h3.4M546.5 36.85h-3.6M62.5 23.67h3.4M546.5 23.67h-3.6M62.5 10.50h5.4M546.5 10.50h-6.3M71.70 281.9v-5.2M71.70 2.5v5.6M94.95 281.9v-3.3M94.95 2.5v3.4M118.19 281.9v-3.3M118.19 2.5v3.4M141.44 281.9v-3.3M141.44 2.5v3.4M164.68 281.9v-3.3M164.68 2.5v3.4M187.93 281.9v-5.2M187.93 2.5v5.6M211.17 281.9v-3.3M211.17 2.5v3.4M234.42 281.9v-3.3M234.42 2.5v3.4M257.66 281.9v-3.3M257.66 2.5v3.4M280.91 281.9v-3.3M280.91 2.5v3.4M304.15 281.9v-5.2M304.15 2.5v5.6M327.39 281.9v-3.3M327.39 2.5v3.4M350.64 281.9v-3.3M350.64 2.5v3.4M373.88 281.9v-3.3M373.88 2.5v3.4M397.13 281.9v-3.3M397.13 2.5v3.4M420.38 281.9v-5.2M420.38 2.5v5.6M443.62 281.9v-3.3M443.62 2.5v3.4M466.87 281.9v-3.3M466.87 2.5v3.4M490.11 281.9v-3.3M490.11 2.5v3.4M513.36 281.9v-3.3M513.36 2.5v3.4M536.60 281.9v-5.2M536.60 2.5v5.6" stroke="#7a7a7a" stroke-width="0.9" fill="none"/>
<g font-family="'Liberation Serif', serif" fill="#000" stroke="#fff" stroke-width="0.15">
<text transform="translate(57.80 279.70) scale(1.17 1)" text-anchor="end" font-size="20.3" letter-spacing="-0.45">0.0</text>
<text transform="translate(57.80 227.00) scale(1.17 1)" text-anchor="end" font-size="20.3" letter-spacing="-0.45">0.2</text>
<text transform="translate(57.80 174.30) scale(1.17 1)" text-anchor="end" font-size="20.3" letter-spacing="-0.45">0.4</text>
<text transform="translate(57.80 121.60) scale(1.17 1)" text-anchor="end" font-size="20.3" letter-spacing="-0.45">0.6</text>
<text transform="translate(57.80 68.90) scale(1.17 1)" text-anchor="end" font-size="20.3" letter-spacing="-0.45">0.8</text>
<text transform="translate(57.80 16.20) scale(1.17 1)" text-anchor="end" font-size="20.3" letter-spacing="-0.45">1.0</text>
<text transform="translate(71.80 300.60) scale(1.12 1)" text-anchor="middle" font-size="20.3" letter-spacing="-0.42">0</text>
<text transform="translate(188.03 300.60) scale(1.12 1)" text-anchor="middle" font-size="20.3" letter-spacing="-0.42">50</text>
<text transform="translate(304.25 300.60) scale(1.12 1)" text-anchor="middle" font-size="20.3" letter-spacing="-0.42">100</text>
<text transform="translate(420.48 300.60) scale(1.12 1)" text-anchor="middle" font-size="20.3" letter-spacing="-0.42">150</text>
<text transform="translate(536.70 300.60) scale(1.12 1)" text-anchor="middle" font-size="20.3" letter-spacing="-0.42">200</text>
<text transform="translate(304.20 329.40) scale(1.13 1)" text-anchor="middle" font-size="19.5" stroke="none">Scaled time</text>
<text transform="translate(13.9 141.7) rotate(-90) scale(1.13 1)" text-anchor="middle" font-size="17.2">PR(t, <tspan font-style="italic">ω</tspan>)</text>
<path d="M286.20 234.00h21.6" stroke="#00aa00" stroke-width="1.8" stroke-opacity="0.45" fill="none"/>
<path d="M286.20 234.00h21.6" stroke="#00aa00" stroke-width="1.6" stroke-dasharray="2.2 1.8" stroke-opacity="0.5" fill="none"/>
<text transform="translate(308.70 238.00) scale(1.1 1)" font-size="18.3" font-style="italic">ω</text>
<text transform="translate(326.40 238.00) scale(1.1 1)" font-size="18.3">=</text>
<text transform="translate(343.70 238.00) scale(1.1 1)" font-size="18.3">1.0</text>
<path d="M369.20 234.00h21.6" stroke="#0000aa" stroke-width="1.8" stroke-opacity="0.45" fill="none"/>
<path d="M369.20 234.00h21.6" stroke="#0000aa" stroke-width="1.6" stroke-dasharray="2.2 1.8" stroke-opacity="0.5" fill="none"/>
<text transform="translate(391.70 238.00) scale(1.1 1)" font-size="18.3" font-style="italic">ω</text>
<text transform="translate(409.40 238.00) scale(1.1 1)" font-size="18.3">=</text>
<text transform="translate(426.70 238.00) scale(1.1 1)" font-size="18.3">1.5</text>
<path d="M453.10 234.00h21.6" stroke="#ff0000" stroke-width="1.8" stroke-opacity="0.45" fill="none"/>
<path d="M453.10 234.00h21.6" stroke="#ff0000" stroke-width="1.6" stroke-dasharray="2.2 1.8" stroke-opacity="0.5" fill="none"/>
<text transform="translate(475.60 238.00) scale(1.1 1)" font-size="18.3" font-style="italic">ω</text>
<text transform="translate(493.30 238.00) scale(1.1 1)" font-size="18.3">=</text>
<text transform="translate(510.60 238.00) scale(1.1 1)" font-size="18.3">2.0</text>
<path d="M286.20 258.60h21.6" stroke="#aaaa00" stroke-width="1.8" stroke-opacity="0.45" fill="none"/>
<path d="M286.20 258.60h21.6" stroke="#aaaa00" stroke-width="1.6" stroke-dasharray="2.2 1.8" stroke-opacity="0.5" fill="none"/>
<text transform="translate(308.70 262.10) scale(1.1 1)" font-size="18.3" font-style="italic">ω</text>
<text transform="translate(326.40 262.10) scale(1.1 1)" font-size="18.3">=</text>
<text transform="translate(343.70 262.10) scale(1.1 1)" font-size="18.3">2.5</text>
<path d="M369.20 258.60h21.6" stroke="#ffaa55" stroke-width="1.8" stroke-opacity="0.45" fill="none"/>
<path d="M369.20 258.60h21.6" stroke="#ffaa55" stroke-width="1.6" stroke-dasharray="2.2 1.8" stroke-opacity="0.5" fill="none"/>
<text transform="translate(391.70 262.10) scale(1.1 1)" font-size="18.3" font-style="italic">ω</text>
<text transform="translate(409.40 262.10) scale(1.1 1)" font-size="18.3">=</text>
<text transform="translate(426.70 262.10) scale(1.1 1)" font-size="18.3">3.0</text>
</g>
</svg>
</body></html>
